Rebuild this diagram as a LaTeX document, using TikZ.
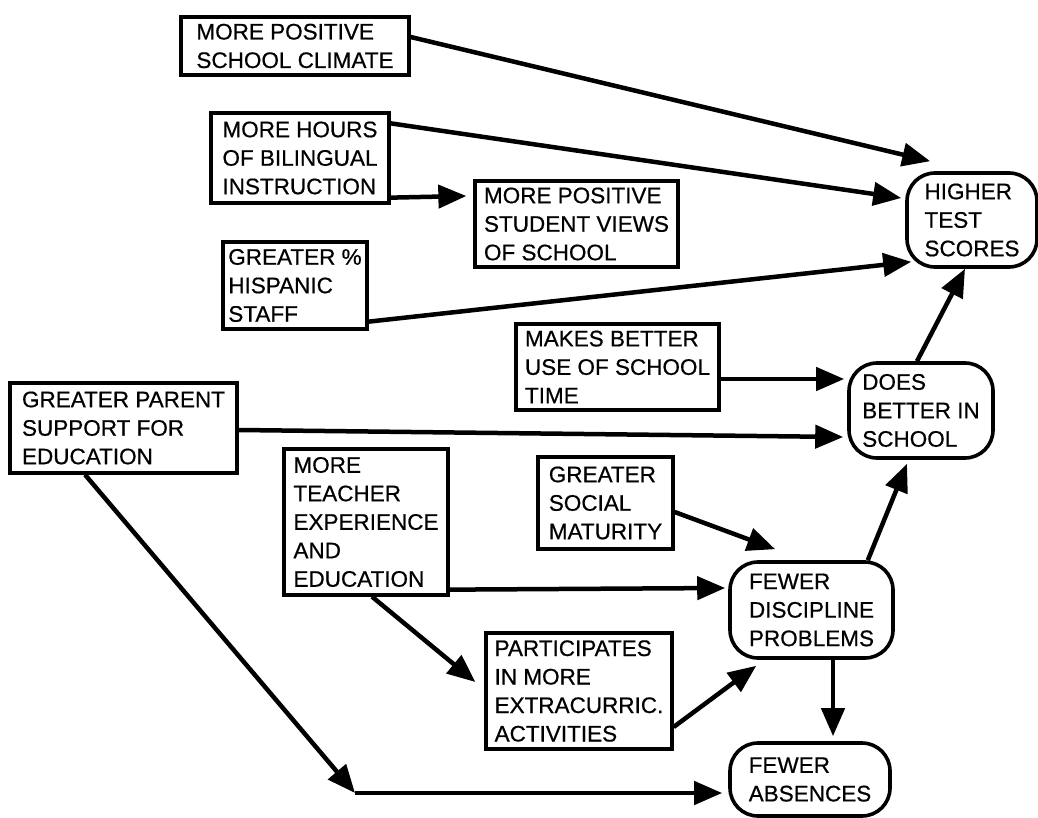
\documentclass[tikz,border=0pt]{standalone}
\usepackage{fontspec}
\setmainfont{Liberation Sans}
\newfontfamily\heavyfont[FakeBold=0.6]{Liberation Sans}
\usetikzlibrary{arrows.meta}
\begin{document}
\begin{tikzpicture}[x=1pt,y=-1pt,
  box/.style={draw,line width=3.3pt,align=left,inner sep=0pt,font=\heavyfont\fontsize{22.5}{28.5}\selectfont},
  rbox/.style={box,rounded corners=28pt,line width=3.6pt},
  arr/.style={line width=4.5pt,-{Triangle[length=28pt,width=23pt]}}]
\useasboundingbox (0,0) rectangle (1038,818);
% nodes
\node[box,minimum width=228pt,minimum height=58pt] (climate) at (295,46) {MORE POSITIVE\\SCHOOL CLIMATE};
\node[box,minimum width=178pt,minimum height=90pt] (bilingual) at (300,158) {MORE HOURS\\OF BILINGUAL\\INSTRUCTION};
\node[box,minimum width=203pt,minimum height=86pt] (views) at (576.5,224) {MORE POSITIVE\\STUDENT VIEWS\\OF SCHOOL};
\node[box,minimum width=144pt,minimum height=87pt] (hispanic) at (295,285.5) {GREATER \%\\HISPANIC\\STAFF};
\node[box,minimum width=203pt,minimum height=86pt] (makes) at (617.5,367) {MAKES BETTER\\USE OF SCHOOL\\TIME};
\node[box,minimum width=227pt,minimum height=90pt] (parent) at (123.5,428) {GREATER PARENT\\SUPPORT FOR\\EDUCATION};
\node[box,minimum width=164pt,minimum height=146pt] (teacher) at (366,522) {MORE\\TEACHER\\EXPERIENCE\\AND\\EDUCATION};
\node[box,minimum width=135pt,minimum height=92pt] (social) at (605.5,503) {GREATER\\SOCIAL\\MATURITY};
\node[box,minimum width=186pt,minimum height=116pt] (partic) at (579,691) {PARTICIPATES\\IN MORE\\EXTRACURRIC.\\ACTIVITIES};
\node[rbox,minimum width=130pt,minimum height=94pt] (higher) at (972,220) {HIGHER\\TEST\\SCORES};
\node[rbox,minimum width=144pt,minimum height=95pt] (does) at (921,410.5) {DOES\\BETTER IN\\SCHOOL};
\node[rbox,minimum width=163pt,minimum height=96pt] (discipline) at (811.5,610) {FEWER\\DISCIPLINE\\PROBLEMS};
\node[rbox,minimum width=160pt,minimum height=73pt] (absences) at (810,779.5) {FEWER\\ABSENCES};
\coordinate (bend) at (355,793);
% connectors
\draw[arr] ([yshift=9pt]climate.east) -- ([xshift=25pt,yshift=10pt]higher.north west);
\draw[arr] ([yshift=-12pt]bilingual.north east) -- ([xshift=-4pt,yshift=22pt]higher.west);
\draw[arr] ([yshift=7pt]bilingual.south east) -- ([xshift=-7pt,yshift=28pt]views.west);
\draw[arr] ([yshift=9pt]hispanic.south east) -- ([xshift=6pt,yshift=7pt]higher.south west);
\draw[arr] ([yshift=-12pt]makes.east) -- ([xshift=-3pt,yshift=31.5pt]does.west);
\draw[arr] ([yshift=-2pt]parent.east) -- ([xshift=-4pt,yshift=-26.5pt]does.west);
\draw[arr] ([xshift=-4pt]does.north) -- ([xshift=-7pt]higher.south);
\draw[arr] ([yshift=7pt]teacher.south east) -- ([xshift=-3pt,yshift=22pt]discipline.west);
\draw[arr] ([yshift=-9pt]social.east) -- ([xshift=47pt,yshift=11pt]discipline.north west);
\draw[arr] ([xshift=6pt]teacher.south) -- ([xshift=-9pt,yshift=9pt]partic.west);
\draw[arr] ([yshift=-36pt]partic.east) -- ([xshift=28pt,yshift=-6pt]discipline.south west);
\draw[arr] ([xshift=-27pt]discipline.north east) -- ([xshift=-14pt,yshift=-4pt]does.south);
\draw[arr] ([xshift=21.5pt]discipline.south) -- ([xshift=23pt,yshift=5pt]absences.north);
\draw[arr] ([xshift=-38.5pt]parent.south) -- (bend);
\draw[arr] (bend) -- ([xshift=-6pt,yshift=-13.5pt]absences.west);
\end{tikzpicture}
\end{document}
